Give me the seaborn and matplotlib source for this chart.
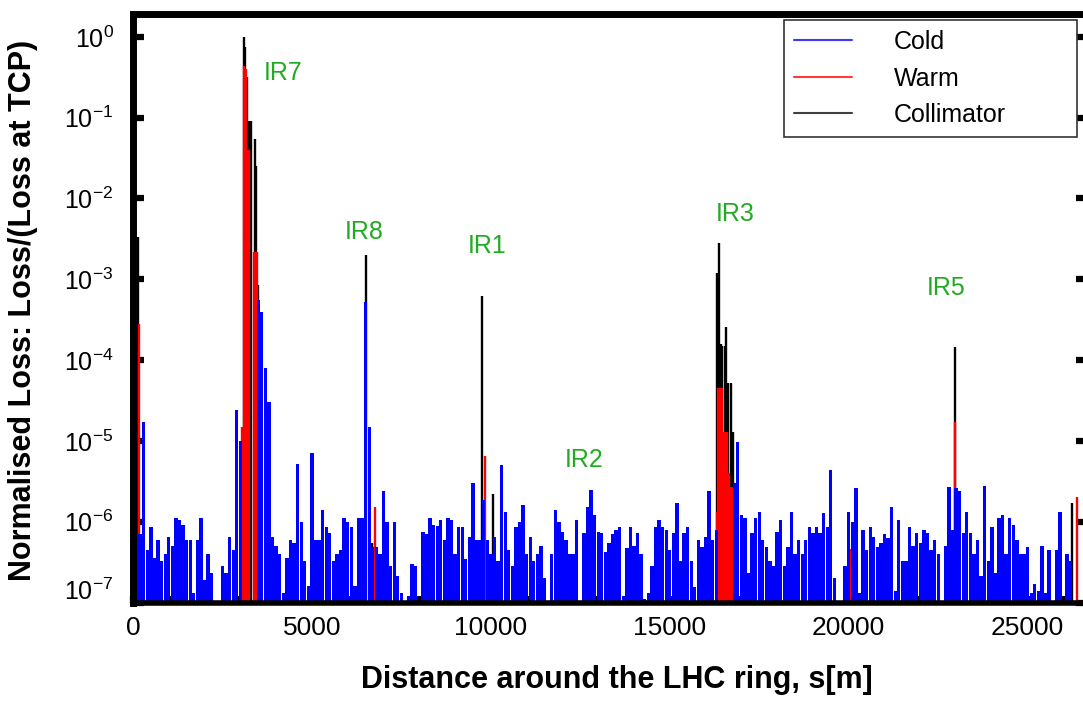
import numpy as np
import pandas as pd
import seaborn as sns
import matplotlib.pyplot as plt
from matplotlib.lines import Line2D
from matplotlib.transforms import ScaledTranslation
from matplotlib.ticker import LogLocator, LogFormatterMathtext, MultipleLocator, NullLocator

# cold magnets: one reading every 100 m around the ring (0 .. 26600 m)
cold_s = np.arange(0, 26700, 100)
cold_loss = [
    6e-7, 1.3e-4, 7e-7, 1.7e-5, 4.5e-7, 8.6e-7, 3.6e-7, 6e-7, 3.3e-7, 4e-7,
    6.5e-7, 5e-7, 1.1e-6, 1.05e-6, 9e-7, 6e-7, 6e-7, 1.3e-7, 5.9e-7, 1.1e-6,
    1.9e-7, 4e-7, 2.3e-7, 0, 0, 2.8e-7, 2.3e-7, 6.5e-7, 4.5e-7, 2.4e-5,
    1.0e-5, 0, 0, 0, 0, 5.6e-4, 3.9e-4, 8e-5, 3e-5, 6.5e-7,
    5e-7, 4e-7, 1.3e-7, 3.6e-7, 5.9e-7, 5.5e-7, 5.2e-6, 1.0e-6, 3.3e-7, 1.6e-7,
    7e-6, 6e-7, 6e-7, 1.4e-6, 8.5e-7, 7.2e-7, 3.3e-7, 4e-7, 4.5e-7, 1.1e-6,
    1.0e-6, 8.6e-7, 1.6e-7, 1.1e-6, 1.1e-6, 5.3e-4, 1.5e-5, 4.8e-7, 4.9e-7, 4e-7,
    2.4e-6, 1.0e-6, 2.8e-7, 1.0e-6, 2.1e-7, 1.3e-7, 0, 1.2e-7, 3.0e-7, 2.8e-7,
    0, 7.5e-7, 7e-7, 1.1e-6, 9e-7, 8.8e-7, 1.05e-6, 6e-7, 1.1e-6, 1.05e-6,
    4e-7, 8.6e-7, 8.6e-7, 3.5e-7, 6.5e-7, 3.0e-6, 5.9e-7, 5.9e-7, 1.85e-6, 6e-7,
    4e-7, 6.5e-7, 3.3e-7, 5e-6, 1.3e-6, 4.5e-7, 2.8e-7, 8.6e-7, 1.0e-6, 1.6e-6,
    4e-7, 6.5e-7, 3.3e-7, 4e-7, 5e-7, 2e-7, 0, 4e-7, 1.4e-6, 1.0e-6,
    7.5e-7, 5.9e-7, 4e-7, 4e-7, 1.05e-6, 0, 7.2e-7, 1.5e-6, 2.5e-6, 1.2e-6,
    7.5e-7, 7.2e-7, 4.2e-7, 5.5e-7, 7e-7, 8e-7, 8.6e-7, 1.2e-7, 4.7e-7, 8.6e-7,
    5e-7, 7.2e-7, 4e-7, 1.1e-7, 1.3e-7, 2.8e-7, 8.6e-7, 1.05e-6, 8.6e-7, 8e-7,
    4.5e-7, 7.2e-7, 1.7e-6, 3.3e-7, 7.2e-7, 8.6e-7, 3.3e-7, 1.56e-7, 5.9e-7, 4.9e-7,
    6.5e-7, 2.4e-6, 5.9e-7, 8e-7, 0, 0, 0, 0, 3e-6, 9.6e-6,
    1.2e-6, 1.1e-6, 2.3e-7, 7.2e-7, 1.1e-6, 1.3e-6, 5.9e-7, 4.9e-7, 3.3e-7, 2.8e-7,
    7.5e-7, 1.05e-6, 2.8e-7, 4.9e-7, 1.3e-6, 4e-7, 5.9e-7, 4e-7, 5.9e-7, 8.6e-7,
    7.2e-7, 8.6e-7, 7.2e-7, 1.27e-6, 8.6e-7, 4.4e-6, 2.0e-7, 0, 0, 2.8e-7,
    1.3e-6, 1.0e-6, 2.6e-6, 1.3e-7, 8e-7, 4.5e-7, 8.6e-7, 6.5e-7, 4.9e-7, 5.4e-7,
    7e-7, 6.2e-7, 1.5e-6, 1.4e-7, 1.05e-6, 3.3e-7, 3.3e-7, 8.6e-7, 5e-7, 7.2e-7,
    5.4e-7, 7.8e-7, 7.2e-7, 4.5e-7, 6e-7, 4e-7, 0, 5e-7, 2.7e-6, 7.8e-7,
    2.6e-6, 2.4e-6, 7.2e-7, 1.3e-6, 7.2e-7, 4e-7, 5.9e-7, 2.1e-7, 2.8e-6, 3.3e-7,
    8.6e-7, 2.3e-7, 1.1e-6, 1.2e-6, 4e-7, 1.1e-6, 9e-7, 5.9e-7, 4e-7, 4e-7,
    4.9e-7, 1.3e-7, 1.7e-7, 1.4e-7, 5e-7, 1.3e-7, 4.5e-7, 0, 4.5e-7, 1.3e-6,
    0, 4e-7, 3.3e-7, 0, 0, 0, 0,
]

# warm elements
warm_s = [180, 3050, 3100, 3150, 3200, 3250, 3380, 3430, 3470, 6760, 9850, 10060,
          13040, 13380, 16310, 16350, 16400, 16450, 16500, 16550, 16600, 16650,
          16700, 16750, 20030, 22880, 22970, 23240, 26150, 26390]
warm_loss = [2.8e-4, 1.5e-5, 0.44, 0.4, 0.04, 0.04, 2.2e-3, 2.2e-3, 2.2e-3, 1.5e-6,
             6.5e-6, 1.8e-7, 3e-7, 5e-7, 1.3e-6, 4.5e-5, 4.5e-5, 4.5e-5, 1.3e-5,
             1.3e-5, 1.3e-5, 4e-6, 2.7e-6, 2.7e-6, 4.6e-7, 8e-7, 1.7e-5, 7.2e-7,
             3e-7, 2.0e-6]

# collimators
coll_s = [130, 3110, 3140, 3190, 3240, 3290, 3410, 3450, 3500, 6520, 6680, 9760,
          10060, 16310, 16370, 16420, 16470, 16530, 16580, 16640, 16700, 16760,
          22970, 26250]
coll_loss = [3.3e-3, 1.0, 0.75, 0.32, 0.09, 0.09, 0.054, 0.025, 8.6e-4, 2.0e-3,
             5.4e-7, 6.3e-4, 2.2e-6, 1.2e-3, 2.8e-3, 1.6e-4, 1.5e-4, 1.5e-4,
             2.6e-4, 5.2e-5, 5.2e-5, 1.3e-5, 1.46e-4, 1.7e-6]

ir_names = ['IR7', 'IR8', 'IR1', 'IR2', 'IR3', 'IR5']

sns.set_style('ticks')
plt.rcParams['font.family'] = ['Liberation Sans', 'DejaVu Sans']
plt.rcParams['mathtext.default'] = 'regular'
plt.rcParams['text.color'] = 'black'
plt.rcParams['axes.labelcolor'] = 'black'
plt.rcParams['xtick.color'] = 'black'
plt.rcParams['ytick.color'] = 'black'

fig = plt.figure(figsize=(10.83, 7.01), dpi=100)
ax = fig.add_axes([133 / 1083, 1 - 602.5 / 701, (1087 - 133) / 1083, (602.5 - 14) / 701])

cold = pd.DataFrame({'s': cold_s, 'loss': cold_loss})

# collimators at the back, warm over them, cold bars on top
ax.vlines(coll_s, 1e-7, coll_loss, colors='black', lw=1.7, zorder=0.8)
ax.vlines(warm_s, 1e-7, warm_loss, colors='red', lw=1.7, zorder=0.9)
sns.barplot(data=cold, x='s', y='loss', native_scale=True, width=0.93, color='blue',
            saturation=1, linewidth=0, errorbar=None, ax=ax)

ax.set_yscale('log')
ax.set_xlim(0, 26659)
ax.set_ylim(1e-7, 1.92)

# IR labels
ir_pos = [(4190, 0.36), (6450, 3.8e-3), (9890, 2.55e-3), (12620, 5.8e-6),
          (16830, 6.4e-3), (22710, 7.9e-4)]
for name, (s, y) in zip(ir_names, ir_pos):
    ax.text(s, y, name, color='#22aa22', fontsize=18, ha='center', va='center')

# ticks
ax.xaxis.set_major_locator(MultipleLocator(5000))
ax.xaxis.set_minor_locator(MultipleLocator(1000))
ax.yaxis.set_major_locator(LogLocator(base=10, numticks=15))
ax.yaxis.set_major_formatter(LogFormatterMathtext())
ax.yaxis.set_minor_locator(NullLocator())
ax.tick_params(axis='y', which='major', direction='in', length=8, width=4.5,
               left=True, right=True, labelsize=18, pad=14)
ax.tick_params(axis='x', which='both', direction='in', length=5, width=4.5,
               bottom=True, top=False, labelsize=19, pad=10)

for side in ['left', 'top', 'right']:
    ax.spines[side].set_linewidth(5)
ax.spines['bottom'].set_linewidth(4)
for sp in ax.spines.values():
    sp.set_color('black')
    sp.set_visible(True)

ax.set_xlabel('Distance around the LHC ring, s[m]', fontsize=22, fontweight='bold', va='center')
ax.xaxis.set_label_coords(0.507, -0.132)
ax.set_ylabel('Normalised Loss: Loss/(Loss at TCP)', fontsize=22, fontweight='bold', va='center')
ax.yaxis.set_label_coords(-0.1153, 0.497)

handles = [Line2D([], [], color='#3a3aff', lw=1.5),
           Line2D([], [], color='#ff3a3a', lw=1.5),
           Line2D([], [], color='#404040', lw=1.5)]
leg = ax.legend(handles, ['Cold', 'Warm', 'Collimator'], loc='upper left',
                bbox_to_anchor=(784 / 1083, 1 - 20 / 701, (1077 - 784) / 1083, 0),
                bbox_transform=fig.transFigure, mode='expand', fontsize=18,
                frameon=True, fancybox=False, edgecolor='#333333', framealpha=1,
                borderpad=0.4, handlelength=2.3, handletextpad=1.7,
                labelspacing=0.5, borderaxespad=0)
leg.get_frame().set_linewidth(1.2)

# the bottom decade label sits a little higher, clear of the x axis
lift = ScaledTranslation(0, 0.13, fig.dpi_scale_trans)
for tick, loc in zip(ax.yaxis.get_major_ticks(), ax.yaxis.get_majorticklocs()):
    if np.isclose(loc, 1e-7):
        tick.label1.set_transform(tick.label1.get_transform() + lift)

plt.savefig('out.png', dpi=100)
